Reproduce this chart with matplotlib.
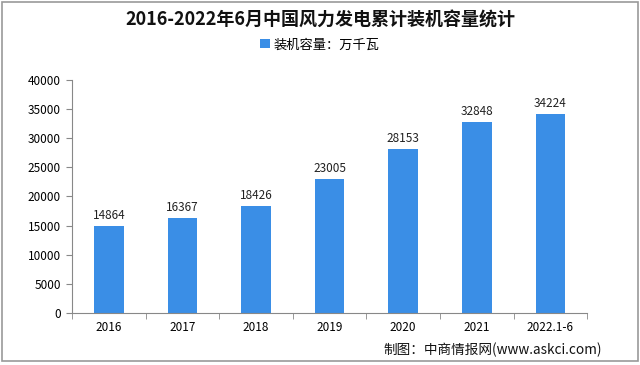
import matplotlib
matplotlib.use("Agg")
import matplotlib.pyplot as plt
from matplotlib.patches import Rectangle, Patch

plt.rcParams['font.family'] = ['Noto Sans CJK SC', 'DejaVu Sans']

categories = ["2016", "2017", "2018", "2019", "2020", "2021", "2022.1-6"]
values = [14864, 16367, 18426, 23005, 28153, 32848, 34224]
yticks = [0, 5000, 10000, 15000, 20000, 25000, 30000, 35000, 40000]
title = "2016-2022年6月中国风力发电累计装机容量统计"
legend_label = "装机容量：万千瓦"
source = "制图：中商情报网(www.askci.com)"

bar_color = "#3A8EE6"

fig = plt.figure(figsize=(6.4, 3.65), dpi=100)
ax = fig.add_axes([0.1125, 0.1425, 0.805, 0.6385])

x = list(range(len(categories)))
ax.bar(x, values, width=0.40, color=bar_color, zorder=2)
for xi, v in zip(x, values):
    ax.text(xi, v + 700, str(v), ha='center', va='bottom', fontsize=8.5, color='#222222')

ax.set_xlim(-0.5, len(categories) - 0.5)
ax.set_ylim(0, 40000)
ax.set_yticks(yticks)
ax.set_yticklabels([str(t) for t in yticks], fontsize=8.5)
ax.set_xticks(x)
ax.set_xticklabels(categories, fontsize=8.5)
ax.set_xticks([i + 0.5 for i in range(-1, len(categories))], minor=True)
ax.tick_params(axis='x', which='major', length=0, pad=6)
ax.tick_params(axis='x', which='minor', length=4, color='#888888', direction='out')
ax.tick_params(axis='y', length=4, color='#888888', direction='out', pad=4)
for s in ['top', 'right']:
    ax.spines[s].set_visible(False)
ax.spines['left'].set_color('#888888')
ax.spines['bottom'].set_color('#888888')

fig.text(0.5, 0.945, title, ha='center', va='center', fontsize=13, fontweight='bold', color='#111111')
handle = Patch(facecolor=bar_color, edgecolor='none', label=legend_label)
fig.legend(handles=[handle], loc='center', bbox_to_anchor=(0.5, 0.877),
           frameon=False, fontsize=9.5, handlelength=0.7, handleheight=0.7, handletextpad=0.3)
fig.text(0.94, 0.04, source, ha='right', va='center', fontsize=9.8, color='#111111')

fig.patches.append(Rectangle((0.003, 0.012), 0.994, 0.983, transform=fig.transFigure,
                             fill=False, edgecolor='#999999', linewidth=1.2))

fig.savefig("out.png", dpi=100)
